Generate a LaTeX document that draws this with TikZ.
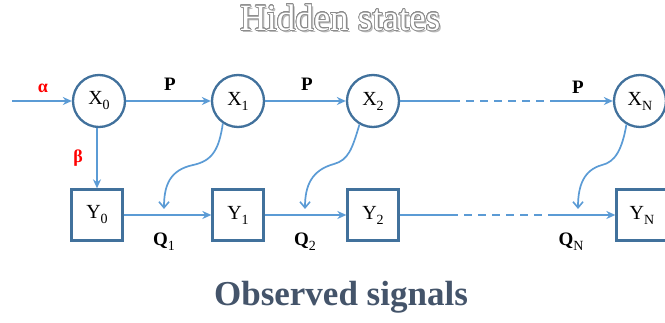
\documentclass[tikz,border=0pt]{standalone}
\usepackage{fontspec}
\setmainfont{Liberation Serif}
\usepackage{contour}
\usetikzlibrary{arrows.meta}
\definecolor{nodeblue}{HTML}{41719C}
\definecolor{arrblue}{HTML}{5B9BD5}
\definecolor{titlegray}{HTML}{44546A}
\definecolor{hidgray}{HTML}{8C8C8C}
\newcommand{\nlab}[2]{#1\raisebox{-5pt}{\fontsize{14}{14}\selectfont #2}}
\newcommand{\qlab}[1]{\textbf{Q}\raisebox{-5pt}{\fontsize{14}{14}\selectfont\mdseries #1}}
\tikzset{
  state/.style={circle,draw=nodeblue,line width=2.3pt,minimum size=52pt,inner sep=0pt,fill=white,font=\fontsize{20}{24}\selectfont},
  obs/.style={rectangle,draw=nodeblue,line width=2.3pt,minimum size=51pt,inner sep=0pt,fill=white,font=\fontsize{20}{24}\selectfont},
  conn/.style={draw=arrblue,line width=1.9pt,-{Stealth[length=9pt,width=8pt]}},
  plain/.style={draw=arrblue,line width=1.9pt},
  dashseg/.style={draw=arrblue,line width=1.9pt,dash pattern=on 8pt off 6pt},
  emit/.style={draw=arrblue,line width=1.7pt,-{Straight Barb[length=6pt,width=10pt,line width=1.6pt]}},
  lab/.style={font=\fontsize{19}{22}\selectfont\bfseries,inner sep=0pt},
  redlab/.style={font=\fontsize{18}{22}\selectfont\bfseries,text=red,inner sep=0pt},
}
\contourlength{0.7pt}
\contournumber{32}
\begin{document}
\begin{tikzpicture}[x=1pt,y=-1pt]
\useasboundingbox (0,0) rectangle (665,323);
% titles
\node[text=hidgray!60,font=\fontsize{37}{40}\selectfont] (hidshadow) at (342,20) {Hidden states};
\node[font=\fontsize{37}{40}\selectfont] (hidden) at (340,18) {\contour{hidgray}{\textcolor{white}{Hidden states}}};
\node[text=titlegray,font=\fontsize{35}{40}\selectfont\bfseries] (observed) at (341,297) {Observed signals};
% nodes
\node[state] (X0) at (99,101) {\nlab{X}{0}};
\node[state] (X1) at (238,101) {\nlab{X}{1}};
\node[state] (X2) at (373,101) {\nlab{X}{2}};
\node[state] (XN) at (640,101) {\nlab{X}{N}};
\node[obs] (Y0) at (97,215) {\nlab{Y}{0}};
\node[obs] (Y1) at (238,215) {\nlab{Y}{1}};
\node[obs] (Y2) at (373,215) {\nlab{Y}{2}};
\node[obs] (YN) at (642,215) {\nlab{Y}{N}};
% coordinates
\coordinate (start) at (12,101);
\coordinate (d1) at (452,101);
\coordinate (d2) at (553,101);
\coordinate (e1) at (450,215);
\coordinate (e2) at (553,215);
\coordinate (q1) at (164,209);
\coordinate (q2) at (305,209);
\coordinate (qN) at (578,209);
% connectors
\draw[conn] (start) -- (X0);
\draw[conn] (X0) -- (X1);
\draw[conn] (X1) -- (X2);
\draw[plain] (X2.east) -- (d1);
\draw[dashseg] (d1) -- (d2);
\draw[conn] (d2) -- (XN.west);
\draw[conn] (X0.south -| Y0.north) -- (Y0.north);
\draw[conn] (Y0) -- (Y1);
\draw[conn] (Y1) -- (Y2);
\draw[plain] (Y2.east) -- (e1);
\draw[dashseg] (e1) -- (e2);
\draw[conn] (e2) -- (YN.west);
% emission curves
\draw[emit] (X1.236) .. controls (219,150) and (212,161) .. (193,165) .. controls (170,170) and (164,185) .. (q1);
\draw[emit] (X2.240) .. controls (352,150) and (348,160) .. (334,164) .. controls (312,170) and (305,185) .. (q2);
\draw[emit] (XN.240) .. controls (622,150) and (615,162) .. (602,165) .. controls (584,170) and (578,185) .. (qN);
% labels
\node[redlab] (alpha) at (43,88) {α};
\node[redlab] (beta) at (78,158) {β};
\node[lab] (p1) at (170,84) {P};
\node[lab] (p2) at (307,84) {P};
\node[lab] (pN) at (578,87) {P};
\node[lab] (Q1) at (164,242) {\qlab{1}};
\node[lab] (Q2) at (305,242) {\qlab{2}};
\node[lab] (QN) at (571,242) {\qlab{N}};
\end{tikzpicture}
\end{document}
